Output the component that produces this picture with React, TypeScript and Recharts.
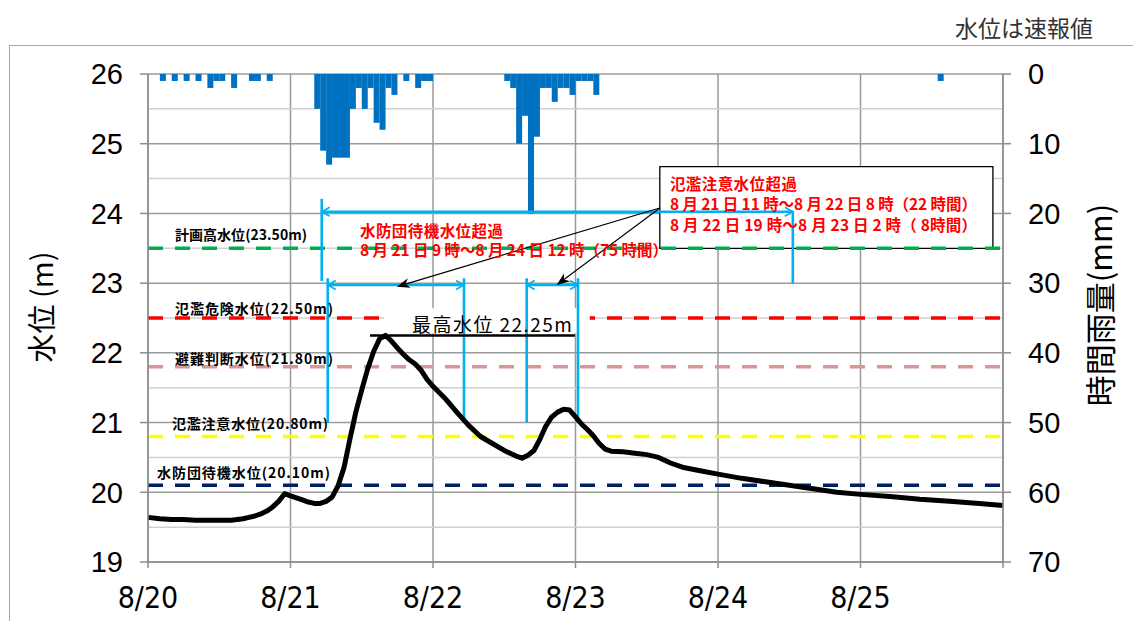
import React from "react";
import {
  ComposedChart, Line, Bar, XAxis, YAxis, CartesianGrid,
  ReferenceLine, ReferenceArea, ReferenceDot,
} from "recharts";

// x = hours since 8/20 0:00
const dayTicks = [0, 24, 48, 72, 96, 120, 144];
const dayLabels = ["8/20", "8/21", "8/22", "8/23", "8/24", "8/25", ""];

const levelTicks = [19, 20, 21, 22, 23, 24, 25, 26];
const levelHalfLines = [19.5, 20.5, 21.5, 22.5, 23.5, 24.5, 25.5];
const rainTicks = [0, 10, 20, 30, 40, 50, 60, 70];

// water level (m)
const levelHours = [
  0, 2, 4, 6, 8, 10, 12, 14, 16, 17, 18, 19, 20, 21, 22, 23,
  24, 25, 26, 27, 28, 29, 30, 31, 32, 33, 34, 35, 36, 37, 38, 39, 40,
  41, 42, 43, 44, 45, 46, 47, 48, 50, 52, 54, 56, 58, 60, 62,
  63, 64, 65, 66, 67, 68, 69, 70, 71, 72, 73, 74, 75, 76, 77, 78,
  80, 82, 84, 86, 88, 90, 93, 96,
  100, 104, 108, 112, 116, 120, 125, 130, 135, 140, 144,
];
const levelValues = [
  19.64, 19.62, 19.61, 19.61, 19.6, 19.6, 19.6, 19.6, 19.62, 19.64, 19.66, 19.69, 19.73, 19.79, 19.87, 19.98,
  19.95, 19.92, 19.89, 19.86, 19.84, 19.84, 19.87, 19.93, 20.09, 20.35, 20.76, 21.15, 21.47, 21.77, 22.02, 22.2, 22.25,
  22.17, 22.07, 21.98, 21.9, 21.84, 21.75, 21.62, 21.52, 21.35, 21.15, 20.96, 20.8, 20.7, 20.6, 20.52,
  20.49, 20.53, 20.6, 20.76, 20.95, 21.08, 21.15, 21.19, 21.18, 21.08, 20.98, 20.9, 20.81, 20.7, 20.62, 20.59,
  20.58, 20.56, 20.54, 20.5, 20.42, 20.36, 20.31, 20.26,
  20.2, 20.15, 20.1, 20.05, 20.0, 19.97, 19.94, 19.9, 19.87, 19.84, 19.81,
];

// hourly rainfall (mm), hour = start of the hour
const rainHours = [
  2, 4, 6, 8, 10, 11, 12, 14, 17, 18, 20,
  28, 29, 30, 31, 32, 33, 34, 35, 36, 37, 38, 39, 40, 41, 43, 45, 46, 47,
  60, 61, 62, 63, 64, 65, 66, 67, 68, 69, 70, 71, 72, 73, 74, 75,
  133,
];
const rainValues = [
  1, 1, 1, 1, 2, 1, 1, 2, 1, 1, 1,
  5, 11, 13, 12, 12, 12, 5, 2, 5, 2, 7, 8, 2, 3, 1, 2, 1, 1,
  1, 2, 10, 6, 20, 9, 2, 2, 4, 2, 2, 3, 1, 1, 1, 3,
  1,
];

// warning levels
const warnNames = ["計画高水位", "氾濫危険水位", "避難判断水位", "氾濫注意水位", "水防団待機水位"];
const warnValues = [23.5, 22.5, 21.8, 20.8, 20.1];
const warnColors = ["#00B050", "#FF0000", "#DA9694", "#FFFF00", "#002060"];
// where each warning label sits: [hour, level, text width]
const warnLabelPos = [
  [4.55, 23.705, 132],
  [4.55, 22.643, 158],
  [4.55, 21.926, 158],
  [4.04, 20.994, 156],
  [1.52, 20.29, 173],
];

const peakLevel = 22.25;

const rows: { t: number; level: number | null; rain: number | null }[] = [];
for (let t = 0; t <= 144; t++) rows.push({ t, level: null, rain: null });
levelHours.forEach((h, i) => { rows[h].level = levelValues[i]; });
rainHours.forEach((h, i) => { rows[h].rain = rainValues[i]; });

const JP = "'Noto Sans CJK JP', 'Noto Sans', sans-serif";
const NUM = "'Liberation Sans', Arial, sans-serif";
const BLUE = "#00B0F0";
const GRID = "#9A9A9A";
const AXIS = "#8C8C8C";

const blueShape = (startHead: boolean, endHead: boolean) => (p: any) => {
  const { x1, y1, x2, y2 } = p;
  const a = Math.atan2(y2 - y1, x2 - x1);
  const head = (x: number, y: number, ang: number) => {
    const L = 8, W = 4.5;
    const bx = x - L * Math.cos(ang), by = y - L * Math.sin(ang);
    const nx = -Math.sin(ang) * W, ny = Math.cos(ang) * W;
    return (
      <polyline
        points={`${bx + nx},${by + ny} ${x},${y} ${bx - nx},${by - ny}`}
        fill="none" stroke={BLUE} strokeWidth={1.6}
      />
    );
  };
  return (
    <g>
      <line x1={x1} y1={y1} x2={x2} y2={y2} stroke={BLUE} strokeWidth={2.6} />
      {startHead && head(x1, y1, a + Math.PI)}
      {endHead && head(x2, y2, a)}
    </g>
  );
};

const calloutShape = (p: any) => {
  const { x1, y1, x2, y2 } = p;
  const a = Math.atan2(y2 - y1, x2 - x1);
  const L = 13, W = 5;
  const bx = x2 - L * Math.cos(a), by = y2 - L * Math.sin(a);
  const mx = x2 - L * 0.7 * Math.cos(a), my = y2 - L * 0.7 * Math.sin(a);
  const nx = -Math.sin(a) * W, ny = Math.cos(a) * W;
  return (
    <g>
      <line x1={x1} y1={y1} x2={mx} y2={my} stroke="#000" strokeWidth={1.2} />
      <polygon points={`${x2},${y2} ${bx + nx},${by + ny} ${mx},${my} ${bx - nx},${by - ny}`} fill="#000" />
    </g>
  );
};

const textShape = (txt: string, width: number, style: any) => (p: any) => (
  <text
    x={p.cx} y={p.cy} dominantBaseline="central"
    textLength={width} lengthAdjust="spacing" {...style}
  >
    {txt}
  </text>
);

const warnStyle = { fontSize: 14, fontWeight: 700, fill: "#000", fontFamily: JP };
const redStyle = { fontSize: 15.5, fontWeight: 700, fill: "#FF0000", fontFamily: JP };

const leftTitle = (props: any) => {
  const { x, y, height } = props.viewBox;
  const cx = x + 32, cy = y + height / 2 - 11;
  return (
    <text x={cx} y={cy} transform={`rotate(-90 ${cx} ${cy})`} textAnchor="middle"
      dominantBaseline="central" fontSize={29} fontFamily={JP} fill="#000">
      水位 (m)
    </text>
  );
};

const rightTitle = (props: any) => {
  const { x, y, height } = props.viewBox;
  const cx = x + 95, cy = y + height / 2 - 13;
  return (
    <text x={cx} y={cy} transform={`rotate(-90 ${cx} ${cy})`} textAnchor="middle"
      dominantBaseline="central" fontSize={31} fontFamily={JP} fill="#000">
      時間雨量(mm)
    </text>
  );
};

const DayTick = (props: any) => {
  const { x, y, payload } = props;
  return (
    <text x={x} y={y + 40} textAnchor="middle" fill="#000" fontSize={30}
      fontFamily="'DejaVu Sans Condensed', 'DejaVu Sans', sans-serif">
      {dayLabels[dayTicks.indexOf(payload.value)]}
    </text>
  );
};

const ids = { xAxisId: "main", yAxisId: "level" } as const;

export default function App() {
  return (
    <div style={{ position: "absolute", left: 0, top: 0, width: 1133, height: 621, overflow: "hidden", background: "#fff" }}>
      <div style={{
        position: "absolute", left: 9, top: 45, width: 1200, height: 700,
        borderLeft: "1.5px solid #A6A6A6", borderTop: "1.5px solid #A6A6A6",
      }} />
      <div style={{
        position: "absolute", left: 955, top: 10, fontSize: 23, fontFamily: JP, color: "#333", whiteSpace: "nowrap",
      }}>
        水位は速報値
      </div>
      <div style={{ position: "absolute", left: 0, top: 0 }}>
        <ComposedChart
          width={1133} height={621} data={rows}
          margin={{ top: 74, right: 5, bottom: 9, left: 8 }}
          barCategoryGap={0} barGap={0}
        >
          <CartesianGrid xAxisId="main" yAxisId="level" stroke={GRID} strokeWidth={1.5} />
          {levelHalfLines.map((v) => (
            <ReferenceLine key={`h${v}`} {...ids} y={v} stroke="#D0D0D0" strokeWidth={1.5} zIndex={-95} />
          ))}

          <ReferenceArea {...ids} x1={86.2} x2={142.3} y1={23.5} y2={24.67}
            fill="#fff" fillOpacity={1} stroke="#000" strokeWidth={1.3} zIndex={-90} />

          {warnValues.map((v, i) => (
            <ReferenceLine key={`w${v}`} {...ids} y={v} stroke={warnColors[i]}
              strokeWidth={3.5} strokeDasharray="15 12" zIndex={-80} />
          ))}

          <ReferenceArea {...ids} x1={39.75} x2={74.4} y1={22.28} y2={22.64}
            fill="#fff" fillOpacity={1} stroke="none" zIndex={-70} />

          <Bar xAxisId="bar" yAxisId="rain" dataKey="rain" fill="#0070C0" isAnimationActive={false} />

          {/* exceedance period markers */}
          <ReferenceLine {...ids} segment={[{ x: 29.26, y: 24.21 }, { x: 29.26, y: 23.03 }]} shape={blueShape(false, false)} zIndex={350} />
          <ReferenceLine {...ids} segment={[{ x: 29.26, y: 24.025 }, { x: 108.6, y: 24.025 }]} shape={blueShape(true, true)} zIndex={350} />
          <ReferenceLine {...ids} segment={[{ x: 108.6, y: 24.025 }, { x: 108.6, y: 23.0 }]} shape={blueShape(false, false)} zIndex={350} />
          {[30.27, 53.22, 63.78, 72.42].map((h) => (
            <ReferenceLine key={`v${h}`} {...ids} segment={[{ x: h, y: 23.07 }, { x: h, y: 21.0 }]} shape={blueShape(false, false)} zIndex={350} />
          ))}
          <ReferenceLine {...ids} segment={[{ x: 30.27, y: 22.973 }, { x: 53.22, y: 22.973 }]} shape={blueShape(true, true)} zIndex={350} />
          <ReferenceLine {...ids} segment={[{ x: 63.78, y: 22.973 }, { x: 72.42, y: 22.973 }]} shape={blueShape(true, true)} zIndex={350} />

          <ReferenceLine {...ids} segment={[{ x: 86.2, y: 24.078 }, { x: 41.9, y: 22.949 }]} shape={calloutShape} zIndex={350} />
          <ReferenceLine {...ids} segment={[{ x: 86.2, y: 24.078 }, { x: 68.83, y: 22.973 }]} shape={calloutShape} zIndex={350} />

          <ReferenceLine {...ids} segment={[{ x: 37.4, y: peakLevel }, { x: 71.9, y: peakLevel }]}
            stroke="#000" strokeWidth={2.6} zIndex={350} />

          {warnNames.map((n, i) => (
            <ReferenceDot key={`l${n}`} {...ids} x={warnLabelPos[i][0]} y={warnLabelPos[i][1]} r={0}
              shape={textShape(`${n}(${warnValues[i].toFixed(2)}m)`, warnLabelPos[i][2], warnStyle)} zIndex={360} />
          ))}

          <ReferenceDot {...ids} x={35.7} y={23.762} r={0} zIndex={360}
            shape={textShape("水防団待機水位超過", 143, redStyle)} />
          <ReferenceDot {...ids} x={35.7} y={23.49} r={0} zIndex={360}
            shape={textShape("8 月 21 日 9 時～8 月 24 日 12 時（75 時間）", 308, redStyle)} />
          <ReferenceDot {...ids} x={87.9} y={24.436} r={0} zIndex={360}
            shape={textShape("氾濫注意水位超過", 127, redStyle)} />
          <ReferenceDot {...ids} x={87.9} y={24.15} r={0} zIndex={360}
            shape={textShape("8 月 21 日 11 時～8 月 22 日 8 時（22 時間）", 307, redStyle)} />
          <ReferenceDot {...ids} x={87.9} y={23.848} r={0} zIndex={360}
            shape={textShape("8 月 22 日 19 時～8 月 23 日 2 時（ 8時間）", 307, redStyle)} />
          <ReferenceDot {...ids} x={44.46} y={22.428} r={0} zIndex={360}
            shape={textShape(`最高水位 ${peakLevel.toFixed(2)}m`, 160, { fontSize: 19, fill: "#000", fontFamily: JP })} />

          <Line {...ids} dataKey="level" type="linear" stroke="#000" strokeWidth={5}
            strokeLinejoin="round" dot={false} activeDot={false} connectNulls isAnimationActive={false} />

          <XAxis
            xAxisId="main" dataKey="t" type="number" domain={[0, 144]} ticks={dayTicks} interval={0}
            height={50} tickSize={6} tickMargin={0}
            axisLine={{ stroke: AXIS, strokeWidth: 1.5 }} tickLine={{ stroke: AXIS, strokeWidth: 1.5 }}
            tick={DayTick}
          />
          <XAxis xAxisId="bar" dataKey="t" type="number" domain={[-0.5, 143.5]} allowDataOverflow hide height={0} />
          <YAxis
            yAxisId="level" domain={[19, 26]} ticks={levelTicks} interval={0} width={140}
            tickSize={8} tickMargin={17} allowDataOverflow
            axisLine={{ stroke: AXIS, strokeWidth: 1.5 }} tickLine={{ stroke: AXIS, strokeWidth: 1.5 }}
            tick={{ fill: "#000", fontSize: 29, fontFamily: NUM }}
            label={leftTitle}
          />
          <YAxis
            yAxisId="rain" orientation="right" reversed domain={[0, 70]} ticks={rainTicks} interval={0} width={125}
            tickSize={8} tickMargin={17} allowDataOverflow
            axisLine={{ stroke: AXIS, strokeWidth: 1.5 }} tickLine={{ stroke: AXIS, strokeWidth: 1.5 }}
            tick={{ fill: "#000", fontSize: 29, fontFamily: NUM }}
            label={rightTitle}
          />
        </ComposedChart>
      </div>
    </div>
  );
}
